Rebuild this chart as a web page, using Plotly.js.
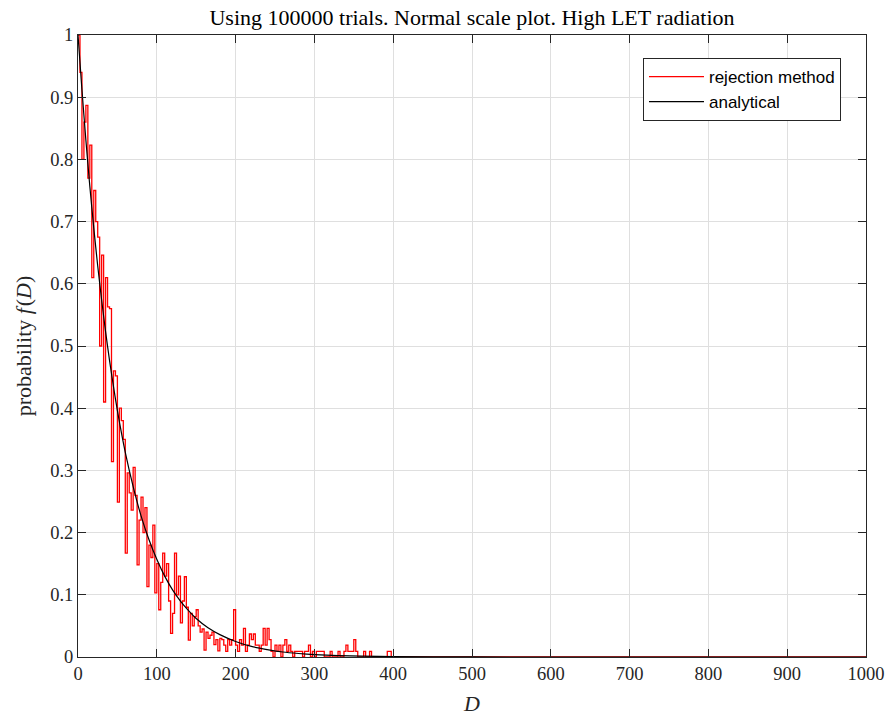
<!DOCTYPE html>
<html>
<head>
<meta charset="utf-8">
<script src="https://cdn.plot.ly/plotly-3.0.1.min.js"></script>
<style>html,body{margin:0;padding:0;background:#fff;}#chart{width:889px;height:717px;}</style>
</head>
<body>
<div id="chart"></div>
<script>
// Rejection-method histogram (bin width 2.5 in D)
const binWidth = 2.5;
const rejValues = [
 1.00,0.94,0.80,0.86,0.887,0.77,0.823,0.61,0.75,0.70,
 0.675,0.50,0.646,0.41,0.61,0.563,0.56,0.314,0.46,0.452,
 0.249,0.40,0.38,0.35,0.167,0.296,0.264,0.236,0.305,0.26,
 0.148,0.22,0.257,0.20,0.24,0.113,0.18,0.16,0.212,0.103,
 0.15,0.076,0.12,0.167,0.13,0.15,0.09,0.038,0.07,0.167,
 0.10,0.13,0.055,0.09,0.129,0.08,0.027,0.07,0.05,0.065,
 0.076,0.05,0.04,0.045,0.011,0.04,0.03,0.035,0.04,0.02,
 0.028,0.01,0.03,0.028,0.019,0.009,0.028,0.019,0.028,0.076,
 0.019,0.009,0.028,0.019,0.046,0.009,0.019,0.037,0.028,0.037,
 0.019,0.019,0.009,0.019,0.046,0.019,0.046,0.028,0.009,0.0,
 0.019,0.009,0.019,0,0.019,0.028,0.009,0.019,0.009,0,
 0.009,0.009,0.009,0.009,0,0.009,0.009,0.019,0,0.009,
 0,0.009,0.009,0.009,0.009,0,0,0,0.009,0,
 0,0,0.009,0,0,0.009,0.019,0.009,0.009,0.009,
 0.028,0.009,0,0,0,0.009,0,0,0.009,0,
 0,0,0,0,0,0,0,0.009,0.009,0
];
const rejTailD = [400, 1000];
const rejTailF = [0, 0];

// Analytical curve
const anaD = [0,5,10,15,20,25,30,35,40,45,50,60,70,80,90,100,110,120,130,140,150,165,180,200,220,240,260,280,300,330,360,400,500,600,1000];
const anaF = [1.000,0.912,0.831,0.757,0.690,0.629,0.574,0.523,0.477,0.435,0.396,0.329,0.274,0.227,0.189,0.157,0.130,0.108,0.090,0.075,0.062,0.047,0.036,0.025,0.017,0.012,0.008,0.0056,0.0039,0.0022,0.0013,0.0006,0.0001,0,0];

const xTicks = [0,100,200,300,400,500,600,700,800,900,1000];
const yTicks = [0,0.1,0.2,0.3,0.4,0.5,0.6,0.7,0.8,0.9,1];
const yTickText = ['0','0.1','0.2','0.3','0.4','0.5','0.6','0.7','0.8','0.9','1'];

const rejD = rejValues.map((v,i)=>i*binWidth).concat(rejTailD);
const rejF = rejValues.concat(rejTailF);

const axisColor = '#262626';
const serif = 'Liberation Serif, Times New Roman, serif';

const traces = [
  {x: rejD, y: rejF, type:'scatter', mode:'lines', name:'rejection method',
   line:{color:'#ff0000', width:1.3, shape:'hv'}},
  {x: anaD, y: anaF, type:'scatter', mode:'lines', name:'analytical',
   line:{color:'#000000', width:1.2, shape:'spline', smoothing:0.6}}
];

const axCommon = {
  showgrid:true, gridcolor:'#dfdfdf', gridwidth:1,
  showline:true, linecolor:axisColor, linewidth:1, mirror:'ticks',
  ticks:'inside', ticklen:8, tickcolor:axisColor, tickwidth:1,
  zeroline:false, tickfont:{family:serif, size:18.5, color:axisColor},
  automargin:false
};

const layout = {
  width:889, height:717,
  margin:{l:78, r:23, t:35, b:60},
  paper_bgcolor:'#ffffff', plot_bgcolor:'#ffffff',
  showlegend:true,
  title:{text:'Using 100000 trials. Normal scale plot. High LET radiation',
    font:{family:serif, size:22, color:'#000'}, x:0.5, xref:'paper', y:1-17/717, yref:'container', yanchor:'middle'},
  xaxis:Object.assign({}, axCommon, {range:[0,1000], tickvals:xTicks, ticktext:xTicks.map(String),
    title:{text:'<i>D</i>', font:{family:serif, size:22, color:axisColor}, standoff:12}}),
  yaxis:Object.assign({}, axCommon, {range:[0,1], tickvals:yTicks, ticktext:yTickText,
    title:{text:'probability&nbsp;<i>f</i>&#8202;(<i>D</i>)', font:{family:serif, size:22, color:axisColor}, standoff:12}}),
  legend:{x:0.717, y:0.963, xanchor:'left', yanchor:'top', bgcolor:'#ffffff',
    bordercolor:axisColor, borderwidth:1,
    font:{family:'Liberation Sans, Arial, sans-serif', size:17, color:'#000'},
    tracegroupgap:0, itemwidth:55}
};

Plotly.newPlot('chart', traces, layout, {displayModeBar:false, staticPlot:true});
</script>
</body>
</html>
